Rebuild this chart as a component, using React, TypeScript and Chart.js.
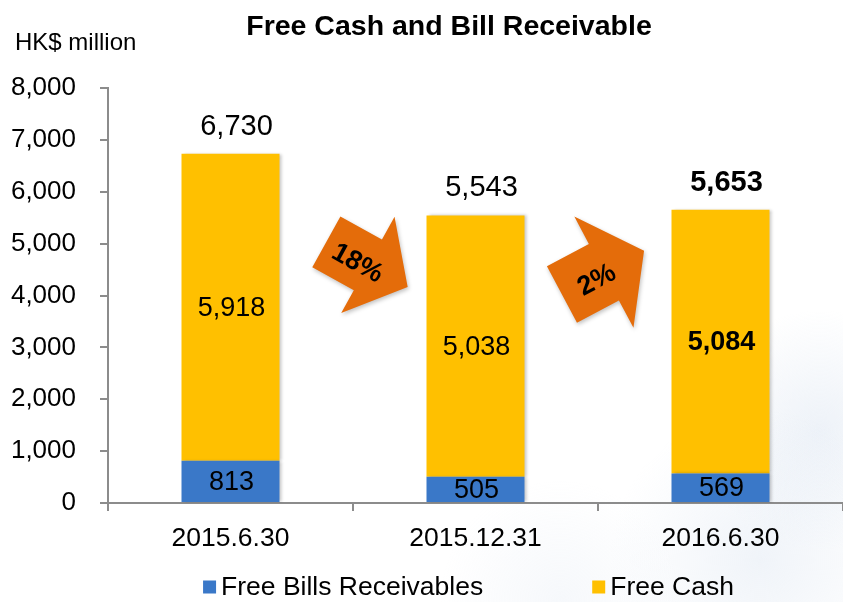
import React, { useEffect, useRef } from 'react';
import { Chart, registerables } from 'chart.js';

Chart.register(...registerables);

// ---- data ----
const categories = ['2015.6.30', '2015.12.31', '2016.6.30'];
const freeBillsReceivables = [813, 505, 569];
const freeCash = [5918, 5038, 5084];
const totals = [6730, 5543, 5653];
const changeLabels = ['18%', '2%'];
const seriesNames = ['Free Bills Receivables', 'Free Cash'];
const yAxisUnit = 'HK$ million';
const chartTitle = 'Free Cash and Bill Receivable';
const yMax = 8000;
const yStep = 1000;

// ---- styles ----
const FONT = "'Liberation Sans', Arial, Helvetica, sans-serif";
const BLUE = '#3A78C8';
const YELLOW = '#FFC000';
const ORANGE = '#E46C0A';
const AXIS = '#8C8C8C';
const HIGHLIGHT = 2;

const fmt = (v: number) => v.toLocaleString('en-US');

const extrasPlugin = {
  id: 'extras',
  afterLayout(chart: any) {
    // centre the title over the plot like the original slide
    const t = chart.titleBlock;
    if (t) {
      t.left = 55;
      t.right = chart.width;
    }
  },
  beforeDraw(chart: any) {
    // faint bluish backdrop in the lower right, as on the source slide
    const ctx = chart.ctx as CanvasRenderingContext2D;
    ctx.save();
    const blobs = [
      [820, 430, 120, 0.35],
      [760, 560, 150, 0.3],
      [560, 600, 120, 0.18],
    ];
    blobs.forEach(([x, y, r, a]) => {
      const g = ctx.createRadialGradient(x, y, 0, x, y, r);
      g.addColorStop(0, `rgba(205,218,235,${a})`);
      g.addColorStop(1, 'rgba(205,218,235,0)');
      ctx.fillStyle = g;
      ctx.fillRect(x - r, y - r, r * 2, r * 2);
    });
    ctx.restore();
  },
  beforeDatasetsDraw(chart: any) {
    const ctx = chart.ctx as CanvasRenderingContext2D;
    ctx.save();
    ctx.shadowColor = 'rgba(0,0,0,0.22)';
    ctx.shadowBlur = 3;
    ctx.shadowOffsetX = 2;
    ctx.shadowOffsetY = 0;
  },
  afterDatasetsDraw(chart: any) {
    const ctx = chart.ctx as CanvasRenderingContext2D;
    ctx.restore();
    const xs = chart.scales.x;
    const ys = chart.scales.y;
    ctx.save();
    ctx.textAlign = 'center';
    ctx.textBaseline = 'middle';
    ctx.fillStyle = '#000';
    // segment labels
    chart.data.datasets.forEach((ds: any, di: number) => {
      const meta = chart.getDatasetMeta(di);
      meta.data.forEach((bar: any, i: number) => {
        const v = ds.data[i] as number;
        const bold = di === 1 && i === HIGHLIGHT;
        ctx.font = `${bold ? 'bold ' : ''}27px ${FONT}`;
        ctx.fillText(fmt(v), bar.x + 1, (bar.y + bar.base) / 2 + 1);
      });
    });
    // totals
    const topMeta = chart.getDatasetMeta(chart.data.datasets.length - 1);
    totals.forEach((t, i) => {
      const bar: any = topMeta.data[i];
      ctx.font = `${i === HIGHLIGHT ? 'bold ' : ''}29px ${FONT}`;
      ctx.fillText(fmt(t), bar.x + 6, bar.y - 27);
    });
    // change arrows
    changeLabels.forEach((lab, i) => {
      const down = totals[i + 1] < totals[i];
      const mid = (xs.getPixelForValue(i) + xs.getPixelForValue(i + 1)) / 2;
      const cx = mid + (down ? 14 : 5);
      const cy = ys.getPixelForValue(down ? 4600 : 4440);
      const ang = ((down ? 29 : -28) * Math.PI) / 180;
      const sh = down ? 29 : 32; // shaft half width
      const hh = down ? 55 : 63; // head half width
      ctx.save();
      ctx.translate(cx, cy);
      ctx.rotate(ang);
      ctx.shadowColor = 'rgba(0,0,0,0.25)';
      ctx.shadowBlur = 4;
      ctx.shadowOffsetX = 1;
      ctx.shadowOffsetY = 2;
      ctx.fillStyle = ORANGE;
      ctx.beginPath();
      ctx.moveTo(-46.5, -sh);
      ctx.lineTo(1, -sh);
      ctx.lineTo(1, -hh);
      ctx.lineTo(46.5, 0);
      ctx.lineTo(1, hh);
      ctx.lineTo(1, sh);
      ctx.lineTo(-46.5, sh);
      ctx.closePath();
      ctx.fill();
      ctx.shadowColor = 'transparent';
      ctx.fillStyle = '#000';
      ctx.font = `bold 27px ${FONT}`;
      ctx.fillText(lab, -9, 4);
      ctx.restore();
    });
    ctx.restore();
  },
  afterDraw(chart: any) {
    const ctx = chart.ctx as CanvasRenderingContext2D;
    const ca = chart.chartArea;
    ctx.save();
    // unit label
    ctx.fillStyle = '#000';
    ctx.textAlign = 'left';
    ctx.textBaseline = 'middle';
    ctx.font = `24px ${FONT}`;
    ctx.fillText(yAxisUnit, 15, 43);
    // legend
    ctx.font = `26.5px ${FONT}`;
    const box = 13;
    const gapText = 5;
    const gap = 109;
    const items = chart.data.datasets.map((ds: any) => ({
      text: ds.label as string,
      color: ds.backgroundColor as string,
      w: box + gapText + ctx.measureText(ds.label).width,
    }));
    const total = items.reduce((s: number, it: any) => s + it.w, 0) + gap * (items.length - 1);
    let x = (ca.left + ca.right) / 2 - 7 - total / 2;
    const y = chart.height - 15;
    items.forEach((it: any) => {
      ctx.fillStyle = it.color;
      ctx.fillRect(x, y - box / 2, box, box);
      ctx.fillStyle = '#000';
      ctx.fillText(it.text, x + box + gapText, y + 1);
      x += it.w + gap;
    });
    ctx.restore();
  },
};

export default function App() {
  const ref = useRef<HTMLCanvasElement>(null);
  useEffect(() => {
    const canvas = ref.current!;
    const chart = new Chart(canvas, {
      type: 'bar',
      data: {
        labels: categories,
        datasets: [
          {
            label: seriesNames[0],
            data: freeBillsReceivables,
            backgroundColor: BLUE,
            stack: 's',
            barPercentage: 0.5,
            categoryPercentage: 0.8,
          },
          {
            label: seriesNames[1],
            data: freeCash,
            backgroundColor: YELLOW,
            stack: 's',
            barPercentage: 0.5,
            categoryPercentage: 0.8,
          },
        ],
      },
      options: {
        responsive: false,
        animation: false,
        devicePixelRatio: 1,
        layout: { padding: { left: 0, right: 0, top: 0, bottom: 0 } },
        plugins: {
          legend: { display: false },
          tooltip: { enabled: false },
          title: {
            display: true,
            text: chartTitle,
            color: '#000',
            font: { family: FONT, size: 28.5, weight: 'bold' },
            padding: { top: 10, bottom: 43.8 },
          },
        },
        scales: {
          x: {
            stacked: true,
            grid: {
              display: true,
              drawOnChartArea: false,
              drawTicks: true,
              tickLength: 8,
              color: AXIS,
              lineWidth: 2,
              offset: true,
            },
            border: { display: true, color: AXIS, width: 2 },
            ticks: { color: '#000', font: { family: FONT, size: 26.5 }, padding: 12 },
            afterFit: (s: any) => {
              s.height = 99;
            },
          },
          y: {
            stacked: true,
            min: 0,
            max: yMax,
            grid: {
              display: true,
              drawOnChartArea: false,
              drawTicks: true,
              tickLength: 8,
              color: AXIS,
              lineWidth: 2,
            },
            border: { display: true, color: AXIS, width: 2 },
            ticks: {
              stepSize: yStep,
              color: '#000',
              font: { family: FONT, size: 26 },
              padding: 24,
              callback: (v: any) => fmt(Number(v)),
            },
            afterFit: (s: any) => {
              s.width = 108;
            },
          },
        },
      },
      plugins: [extrasPlugin],
    } as any);
    return () => chart.destroy();
  }, []);
  return (
    <div style={{ position: 'absolute', left: 0, top: 0, width: 843, height: 602, background: '#fff' }}>
      <canvas ref={ref} width={843} height={602} />
    </div>
  );
}
